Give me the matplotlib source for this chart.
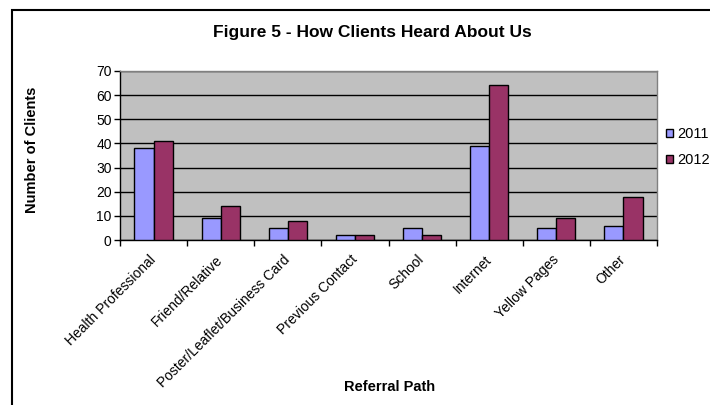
import matplotlib
matplotlib.use("Agg")
import matplotlib.pyplot as plt
import matplotlib.transforms as mtransforms
import numpy as np
from matplotlib.patches import Rectangle

categories = ["Health Professional", "Friend/Relative", "Poster/Leaflet/Business Card",
              "Previous Contact", "School", "Internet", "Yellow Pages", "Other"]
clients_2011 = [38, 9, 5, 2, 5, 39, 5, 6]
clients_2012 = [41, 14, 8, 2, 2, 64, 9, 18]
series_labels = ["2011", "2012"]
yticks = [0, 10, 20, 30, 40, 50, 60, 70]

plt.rcParams["font.family"] = ["Liberation Sans", "DejaVu Sans"]

fig = plt.figure(figsize=(7.1, 4.05), dpi=100)
ax = fig.add_axes([120 / 710, 1 - 240 / 405, 537 / 710, 169 / 405])

# chart border (runs off the right and bottom edges)
fig.patches.append(Rectangle((11.5 / 710, -0.05), 2.0, 1.05 - 9.5 / 405,
                             transform=fig.transFigure, fill=False,
                             edgecolor="black", linewidth=1.5))

x = np.arange(len(categories))
w = 1 / 3.5
ax.set_facecolor("#C0C0C0")
ax.bar(x - w / 2, clients_2011, width=w, color="#9999FF", edgecolor="black",
       linewidth=1.0, label=series_labels[0], zorder=3)
ax.bar(x + w / 2, clients_2012, width=w, color="#993366", edgecolor="black",
       linewidth=1.0, label=series_labels[1], zorder=3)

ax.set_xlim(-0.5, len(categories) - 0.5)
ax.set_ylim(0, 70)
ax.set_yticks(yticks)
ax.yaxis.grid(True, color="black", linewidth=1.0, zorder=1)
ax.set_axisbelow(True)

ax.set_xticks(np.arange(len(categories) + 1) - 0.5)
ax.set_xticklabels([])
ax.set_xticks(x, minor=True)
ax.set_xticklabels(categories, minor=True, rotation=45, ha="right", va="top",
                   rotation_mode="anchor", fontsize=10)
ax.tick_params(axis="x", which="minor", length=0, pad=4)
ax.tick_params(axis="x", which="major", length=4, width=1, direction="out")
ax.tick_params(axis="y", length=4, width=1, labelsize=10, pad=2)

# nudge the slanted category labels a little left and down
shift = mtransforms.ScaledTranslation(-0.05, -0.07, fig.dpi_scale_trans)
for lbl in ax.get_xticklabels(minor=True):
    lbl.set_transform(lbl.get_transform() + shift)

for s in ("left", "bottom"):
    ax.spines[s].set_color("black")
    ax.spines[s].set_linewidth(1.0)
for s in ("top", "right"):
    ax.spines[s].set_color("#808080")
    ax.spines[s].set_linewidth(1.0)

fig.text(372 / 710, 1 - 33 / 405, "Figure 5 - How Clients Heard About Us",
         ha="center", va="center", fontsize=12.5, fontweight="bold")
fig.text(32 / 710, 1 - 150 / 405, "Number of Clients", rotation=90,
         ha="center", va="center", fontsize=10.5, fontweight="bold")
fig.text(390 / 710, 1 - 387 / 405, "Referral Path",
         ha="center", va="center", fontsize=10.5, fontweight="bold")

fig.legend(loc="upper left", bbox_to_anchor=(666 / 710, 1 - 127 / 405),
           bbox_transform=fig.transFigure, frameon=False, fontsize=10.5,
           handlelength=0.5, handleheight=0.5, handletextpad=0.25,
           labelspacing=0.85, borderaxespad=0, borderpad=0)

fig.savefig("out.png", dpi=100)
